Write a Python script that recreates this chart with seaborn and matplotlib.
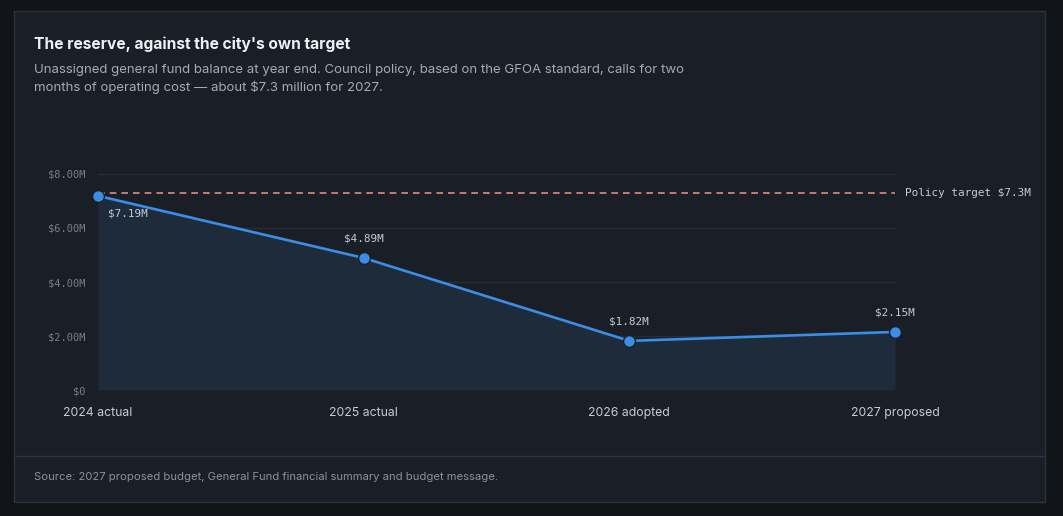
import seaborn as sns
import matplotlib.pyplot as plt
import pandas as pd
from matplotlib.patches import Rectangle
from matplotlib.lines import Line2D

years = ["2024 actual", "2025 actual", "2026 adopted", "2027 proposed"]
balance = [7.19, 4.89, 1.82, 2.15]  # $ millions
target = 7.3
yticks = [0, 2, 4, 6, 8]
ytick_labels = ["$0", "$2.00M", "$4.00M", "$6.00M", "$8.00M"]

W, H = 1063, 516
BG = "#111418"
CARD = "#1a1f27"
EDGE = "#2c333d"
BLUE = "#3a8ee6"
FILL = "#1e2b3b"
GRID = "#272e38"
SALMON = "#e08a7e"
MUTED = "#767f8a"
LIGHT = "#c5ccd4"
SANS = ["Inter", "DejaVu Sans"]
MONO = ["DejaVu Sans Mono"]

sns.set_theme(style="dark")
plt.rcParams["font.family"] = SANS

df = pd.DataFrame({"x": range(len(years)), "year": years, "balance": balance})

fig = plt.figure(figsize=(W / 100, H / 100), dpi=100, facecolor=BG)


def fx(px):
    return px / W


def fy(py):
    return 1 - py / H


# card
fig.patches.append(Rectangle((fx(14), fy(502)), fx(1045 - 14), (502 - 11) / H,
                             transform=fig.transFigure, facecolor=CARD,
                             edgecolor=EDGE, linewidth=1, zorder=-5))
fig.lines.append(Line2D([fx(15), fx(1044)], [fy(456), fy(456)],
                        transform=fig.transFigure, color=EDGE, linewidth=1, zorder=-4))

fig.text(fx(34), fy(44), "The reserve, against the city's own target",
         fontsize=11.2, fontweight="bold", color="#eef1f4", va="center")
fig.text(fx(34), fy(79),
         "Unassigned general fund balance at year end. Council policy, based on the GFOA standard, calls for two\n"
         "months of operating cost \u2014 about $7.3 million for 2027.",
         fontsize=9.5, color="#a3abb5", va="center", linespacing=1.5)
fig.text(fx(34), fy(477),
         "Source: 2027 proposed budget, General Fund financial summary and budget message.",
         fontsize=8.1, color="#8a929c", va="center")

ax = fig.add_axes([fx(98), fy(390), fx(895 - 98), (390 - 174) / H])
ax.set_facecolor(CARD)
ax.set_xlim(0, len(years) - 1)
ax.set_ylim(0, 8)

for v in yticks:
    ax.axhline(v, color=GRID, linewidth=1, zorder=1)

ax.fill_between(df["x"], df["balance"], 0, color=FILL, zorder=2, linewidth=0)
ax.axhline(target, color=SALMON, linestyle=(0, (4, 3)), linewidth=1.2, zorder=3)
sns.lineplot(data=df, x="x", y="balance", ax=ax, color=BLUE, linewidth=1.9,
             zorder=4, marker="o", markersize=8.5, markeredgecolor=CARD,
             markeredgewidth=1.0, markerfacecolor=BLUE, clip_on=False)

for i, v in enumerate(balance):
    if i == 0:
        ax.annotate(f"${v:.2f}M", (i, v), xytext=(10, -18), textcoords="offset pixels",
                    ha="left", va="center", fontsize=7.9, color=LIGHT, family=MONO)
    else:
        ax.annotate(f"${v:.2f}M", (i, v), xytext=(0, 19), textcoords="offset pixels",
                    ha="center", va="center", fontsize=7.9, color=LIGHT, family=MONO)

ax.annotate(f"Policy target ${target}M", (1, target), xycoords=("axes fraction", "data"),
            xytext=(10, 0), textcoords="offset pixels", ha="left", va="center",
            fontsize=7.9, color=LIGHT, family=MONO, annotation_clip=False)

ax.set_yticks(yticks)
ax.set_yticklabels(ytick_labels, family=MONO, fontsize=7.5, color=MUTED)
ax.set_xticks(df["x"])
ax.set_xticklabels(years, fontsize=8.8, color=LIGHT)
ax.tick_params(axis="y", length=0, pad=9)
ax.tick_params(axis="x", length=0, pad=12)
ax.set_xlabel("")
ax.set_ylabel("")
for s in ax.spines.values():
    s.set_visible(False)
ax.grid(False)

fig.savefig("out.png", dpi=100, facecolor=BG)
